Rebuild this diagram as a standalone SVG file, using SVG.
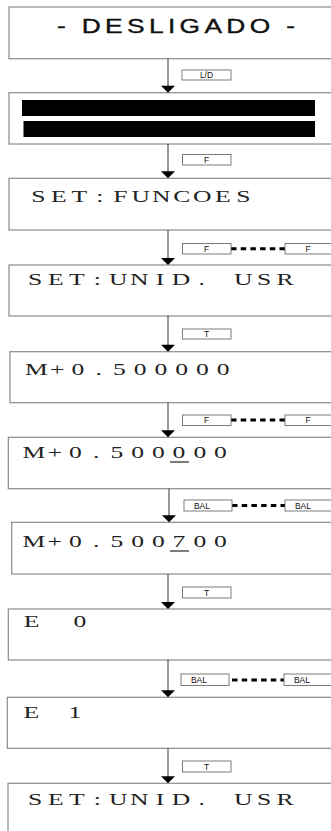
<svg xmlns="http://www.w3.org/2000/svg" width="331" height="831" viewBox="0 0 331 831">
  <style>
    .screen { fill: #ffffff; stroke: #8a8a8a; stroke-width: 1.2; }
    .bar { fill: #000000; }
    .title { font-family: "Liberation Sans", Arial, sans-serif; font-size: 19.5px; fill: #111; stroke: #111; stroke-width: 0.35; }
    .lcd { font-family: "Liberation Serif", "Times New Roman", serif; font-size: 16px; fill: #222; text-anchor: middle; }
    .key { fill: #ffffff; stroke: #6e6e6e; stroke-width: 0.9; }
    .keytxt { font-family: "Liberation Sans", Arial, sans-serif; font-size: 8.5px; fill: #111; text-anchor: middle; }
    .wire { stroke: #333; stroke-width: 1; fill: none; }
    .hold { stroke: #000; stroke-width: 3; stroke-dasharray: 5.5 4.2; fill: none; }
    .uline { stroke: #222; stroke-width: 1.2; }
  </style>
  <defs>
    <polygon id="head" points="-7,-7 7,-7 0,0" fill="#000"/>
  </defs>

  <!-- display screens -->
  <g id="s1">
    <rect class="screen" x="9" y="7" width="340" height="51.7"/>
    <text class="title" transform="scale(1.35 1)" x="42.2" y="33.5" textLength="176.3" lengthAdjust="spacing">- DESLIGADO -</text>
  </g>
  <g id="s2">
    <rect class="screen" x="9" y="92.7" width="340" height="51.3"/>
    <rect class="bar" x="22" y="100" width="293" height="16"/>
    <rect class="bar" x="23.5" y="121" width="291.5" height="16"/>
  </g>
  <g id="s3">
    <rect class="screen" x="9" y="178.3" width="340" height="51.7"/>
    <text class="lcd" transform="scale(1.6 1)" y="201.7" x="23.94 36.75 49.56 62.38 75.19 88 100.81 113.63 126.44 139.25 152.06">SET:FUNCOES</text>
  </g>
  <g id="s4">
    <rect class="screen" x="9" y="265" width="340" height="51"/>
    <text class="lcd" transform="scale(1.6 1)" y="285.5" x="21.88 34.91 47.94 60.88 73.94 87 100 113.06 126 139.06 152.06 165.13 178.13">SET:UNID. USR</text>
  </g>
  <g id="s5">
    <rect class="screen" x="10" y="351.7" width="340" height="51"/>
    <text class="lcd" transform="scale(1.6 1)" y="375" x="22.81 35.81 48.75 61.69 74.69 87.63 100.56 113.5 126.5 139.44">M+0.500000</text>
  </g>
  <g id="s6">
    <rect class="screen" x="8.3" y="437.3" width="340" height="51.4"/>
    <text class="lcd" transform="scale(1.6 1)" y="458.3" x="21.25 34.19 47.13 60.13 73.06 86 98.94 111.88 124.88 137.81">M+0.500000</text>
    <line class="uline" x1="170" y1="462" x2="189" y2="462"/>
  </g>
  <g id="s7">
    <rect class="screen" x="11.7" y="522.3" width="340" height="51.7"/>
    <text class="lcd" transform="scale(1.6 1)" y="547.5" x="21.25 34.19 47.13 60.13 73.06 86 98.94 111.88 124.88 137.81">M+0.500700</text>
    <line class="uline" x1="170" y1="551" x2="189" y2="551"/>
  </g>
  <g id="s8">
    <rect class="screen" x="8.3" y="609" width="340" height="51"/>
    <text class="lcd" transform="scale(1.6 1)" y="627" x="19.81 35 50">E 0</text>
  </g>
  <g id="s9">
    <rect class="screen" x="7.3" y="697.3" width="340" height="51"/>
    <text class="lcd" transform="scale(1.6 1)" y="718.3" x="19.63 33 46.88">E 1</text>
  </g>
  <g id="s10">
    <rect class="screen" x="8" y="783.3" width="340" height="60"/>
    <text class="lcd" transform="scale(1.6 1)" y="805" x="21.88 34.91 47.94 60.88 73.94 87 100 113.06 126 139.06 152.06 165.13 178.13">SET:UNID. USR</text>
  </g>

  <!-- transitions between screens -->
  <g id="connectors">
    <line class="wire" x1="168" y1="58.7" x2="168" y2="86"/>
    <use href="#head" x="168" y="92.7"/>
    <line class="wire" x1="168" y1="144" x2="168" y2="172"/>
    <use href="#head" x="168" y="178.3"/>
    <line class="wire" x1="168" y1="230" x2="168" y2="258"/>
    <use href="#head" x="168" y="265"/>
    <line class="wire" x1="168" y1="316" x2="168" y2="345"/>
    <use href="#head" x="168" y="351.7"/>
    <line class="wire" x1="168" y1="402.7" x2="168" y2="431"/>
    <use href="#head" x="168" y="437.3"/>
    <line class="wire" x1="169" y1="488.7" x2="169" y2="516"/>
    <use href="#head" x="169" y="522.3"/>
    <line class="wire" x1="168" y1="574" x2="168" y2="602"/>
    <use href="#head" x="168" y="609"/>
    <line class="wire" x1="168" y1="660" x2="168" y2="691"/>
    <use href="#head" x="168" y="697.3"/>
    <line class="wire" x1="168" y1="748.3" x2="168" y2="777"/>
    <use href="#head" x="168" y="783.3"/>

    <!-- key hold links -->
    <line class="hold" x1="231" y1="248.8" x2="285" y2="248.8"/>
    <line class="hold" x1="231" y1="420" x2="285" y2="420"/>
    <line class="hold" x1="232" y1="505.5" x2="285" y2="505.5"/>
    <line class="hold" x1="232" y1="680" x2="285" y2="680"/>
  </g>

  <!-- key labels -->
  <g id="k1"><rect class="key" x="182" y="70" width="49" height="10"/><text class="keytxt" x="206.5" y="78">L/D</text></g>
  <g id="k2"><rect class="key" x="182.5" y="154.5" width="48.5" height="10.5"/><text class="keytxt" x="206.7" y="162.8">F</text></g>
  <g id="k3"><rect class="key" x="182.5" y="243.5" width="48.5" height="10.5"/><text class="keytxt" x="206.7" y="251.8">F</text></g>
  <g id="k4"><rect class="key" x="285" y="243.5" width="50" height="10.5"/><text class="keytxt" x="308" y="251.8">F</text></g>
  <g id="k5"><rect class="key" x="182.5" y="329" width="48.5" height="10"/><text class="keytxt" x="206.7" y="337">T</text></g>
  <g id="k6"><rect class="key" x="182.5" y="415" width="48.5" height="10.5"/><text class="keytxt" x="206.7" y="423.3">F</text></g>
  <g id="k7"><rect class="key" x="285" y="415" width="50" height="10.5"/><text class="keytxt" x="308" y="423.3">F</text></g>
  <g id="k8"><rect class="key" x="184" y="500" width="48" height="11"/><text class="keytxt" x="202" y="508.5">BAL</text></g>
  <g id="k9"><rect class="key" x="285" y="500" width="50" height="11"/><text class="keytxt" x="303" y="508.5">BAL</text></g>
  <g id="k10"><rect class="key" x="182.5" y="587" width="48.5" height="11"/><text class="keytxt" x="206.7" y="595.5">T</text></g>
  <g id="k11"><rect class="key" x="181" y="674" width="48" height="11.5"/><text class="keytxt" x="199" y="683">BAL</text></g>
  <g id="k12"><rect class="key" x="284" y="674" width="50" height="11.5"/><text class="keytxt" x="302" y="683">BAL</text></g>
  <g id="k13"><rect class="key" x="182.5" y="761" width="48.5" height="11"/><text class="keytxt" x="206.7" y="769.5">T</text></g>
</svg>
